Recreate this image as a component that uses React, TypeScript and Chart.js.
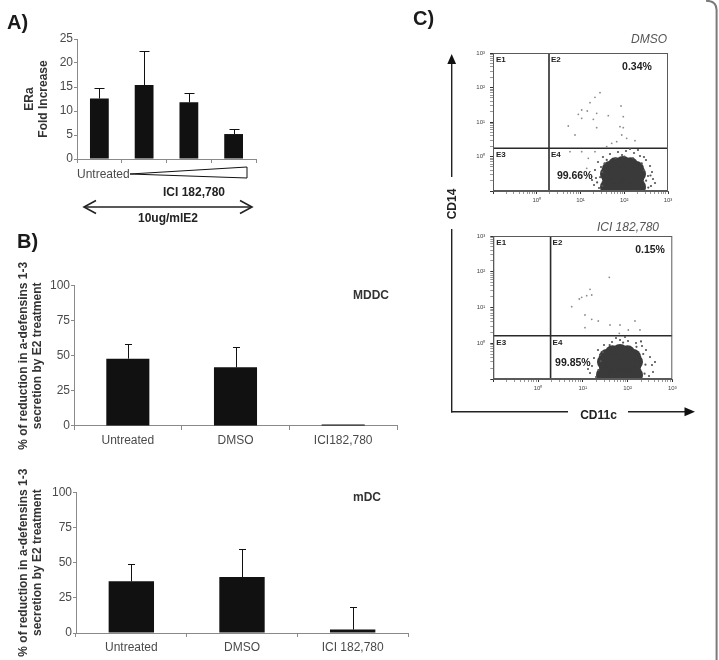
import React, { useEffect, useRef } from 'react';
import { Chart, registerables } from 'chart.js';

Chart.register(...registerables);

const W = 719;
const H = 660;
const FONT = '"Liberation Sans", Arial, Helvetica, sans-serif';

// ---- Panel A: ERa fold increase ----
const erCategories = ['Untreated', 'ICI 182,780 low', 'ICI 182,780 mid', 'ICI 182,780 high'];
const erFoldIncrease = [12.6, 15.4, 11.8, 5.2];
const erFoldSd = [2.1, 7.0, 1.9, 1.0];

// ---- Panel B: % reduction of a-defensin 1-3 secretion by E2 ----
const mddcCategories = ['Untreated', 'DMSO', 'ICI182,780'];
const mddcReduction = [48.0, 41.8, 1.0];
const mddcSd = [10.4, 14.5, 0];

const mdcCategories = ['Untreated', 'DMSO', 'ICI 182,780'];
const mdcReduction = [36.7, 39.8, 2.4];
const mdcSd = [12.3, 20.1, 16.1];

// ---- Panel C: CD11c / CD14 flow cytometry (log10 fluorescence, decades) ----
const fluorDecades = [0, 1, 2, 3];
const fluorTickLabels = ['10\u2070', '10\u00b9', '10\u00b2', '10\u00b3'];
const quadrantNames = ['E1', 'E2', 'E3', 'E4'];

// DMSO: dense CD11c+ CD14- population (core), its fuzzy rim, and scattered events
const dmsoCore = [
  [2.314, -0.507], [2.269, -0.362], [2.143, -0.255], [1.971, -0.217], [1.8, -0.255], [1.674, -0.362],
  [1.629, -0.507], [1.674, -0.652], [1.8, -0.759], [1.971, -0.797], [2.143, -0.759], [2.269, -0.652],
  [1.971, -0.507], [1.811, -0.507], [2.131, -0.507],
  [1.629, -0.884], [2.314, -0.884],
  [1.674, -1.0], [1.857, -1.0], [2.04, -1.0], [2.223, -1.0],
];
const dmsoRim = [
  [1.674, 0.072], [1.857, 0.13], [2.04, 0.159], [2.223, 0.101], [2.36, 0.014], [1.514, -0.014],
  [2.131, 0.217], [1.949, 0.043], [2.497, -0.101], [2.589, -0.275], [2.634, -0.449], [2.657, -0.652],
  [2.611, -0.855], [2.703, -0.768], [2.543, -0.565], [1.4, -0.159], [1.331, -0.391], [1.354, -0.623],
  [1.309, -0.826], [1.423, -0.913], [1.469, -0.304], [1.263, -0.681], [2.451, -0.014], [2.314, 0.188],
  [1.55, -0.2], [1.6, -0.1], [2.4, -0.2], [2.45, -0.4], [2.5, -0.7], [1.45, -0.6], [1.5, -0.85],
  [2.0, 0.0], [1.8, -0.05], [2.2, -0.05], [2.55, -0.9], [1.5, -0.45], [2.6, -0.55], [1.38, -0.75],
];
const dmsoSparse = [
  [1.446, 1.849], [1.331, 1.716], [1.217, 1.559], [1.027, 1.348], [1.155, 1.319], [1.37, 1.252],
  [0.95, 1.223], [1.027, 1.107], [1.635, 1.183], [1.978, 1.154], [0.721, 0.884], [1.37, 0.835],
  [1.978, 0.835], [0.874, 0.623], [1.942, 0.623], [2.056, 0.528], [1.827, 0.429], [2.246, 0.458],
  [1.599, 0.284], [1.713, 0.383], [1.926, 1.464], [1.293, 1.078], [1.903, 0.864],
  [1.027, 0.139], [1.178, -0.052], [1.142, -0.342], [1.256, -0.586], [0.76, 0.139], [1.331, 0.139],
];
const dmsoGate = { x: 0.28, y: 0.24 };
const dmsoNotes = [
  { text: '0.34%', x: 1.95, y: 2.6 },
  { text: '99.66%', x: 0.46, y: -0.56 },
];

// ICI 182,780
const iciCore = [
  [2.166, -0.524], [2.122, -0.385], [1.999, -0.281], [1.831, -0.245], [1.664, -0.281], [1.541, -0.385],
  [1.496, -0.524], [1.541, -0.664], [1.664, -0.768], [1.831, -0.804], [1.999, -0.768], [2.122, -0.664],
  [1.831, -0.524], [1.675, -0.524], [1.988, -0.524],
  [1.474, -0.888], [2.166, -0.888],
  [1.541, -1.0], [1.72, -1.0], [1.898, -1.0], [2.077, -1.0],
];
const iciRim = [
  [1.474, -0.049], [1.653, 0.035], [1.832, 0.091], [2.01, 0.063], [2.189, 0.007], [2.323, -0.077],
  [1.742, 0.147], [1.943, 0.175], [2.412, -0.189], [2.502, -0.385], [2.546, -0.608], [2.569, -0.804],
  [2.479, -0.916], [2.613, -0.524], [1.34, -0.189], [1.25, -0.413], [1.206, -0.636], [1.161, -0.832],
  [1.295, -0.944], [1.384, -0.329], [1.116, -0.72], [1.45, -0.25], [1.4, -0.5], [1.35, -0.75],
  [2.35, -0.3], [2.4, -0.6], [2.38, -0.85], [1.6, -0.05], [2.2, -0.1], [1.9, 0.02], [2.3, 0.05],
];
const iciSparse = [
  [1.592, 1.845], [1.161, 1.509], [1.087, 1.33], [0.975, 1.285], [0.922, 1.238], [1.199, 1.35],
  [0.752, 1.022], [1.049, 0.79], [1.199, 0.67], [1.346, 0.622], [1.608, 0.51], [1.831, 0.51],
  [2.166, 0.622], [1.049, 0.435], [2.017, 0.371], [2.278, 0.371], [1.816, 0.278],
];
const iciGate = { x: 0.28, y: 0.21 };
const iciNotes = [
  { text: '0.15%', x: 2.17, y: 2.6 },
  { text: '99.85%', x: 0.38, y: -0.55 },
];

type Area = { left: number; top: number; right: number; bottom: number };

// Fixed plot rectangles on the page
const AREA_A: Area = { left: 77, top: 39, right: 256, bottom: 159 };
const AREA_B1: Area = { left: 74, top: 285.7, right: 397, bottom: 426 };
const AREA_B2: Area = { left: 76, top: 492.3, right: 408, bottom: 633 };
const AREA_C1: Area = { left: 493, top: 53, right: 668, bottom: 191 };
const AREA_C2: Area = { left: 493.3, top: 236, right: 672.3, bottom: 379 };

function padFor(area: Area, yWidth: number, xHeight: number) {
  return {
    left: area.left - yWidth,
    top: area.top,
    right: W - area.right,
    bottom: H - area.bottom - xHeight,
  };
}

// Upper error bars with a small cap
const errorBarPlugin = {
  id: 'errorBars',
  afterDatasetsDraw(chart: any, _args: any, opts: any) {
    const errs: number[] = opts.errors || [];
    const meta = chart.getDatasetMeta(0);
    const yScale = chart.scales.y;
    const values = chart.data.datasets[0].data as number[];
    const ctx = chart.ctx;
    ctx.save();
    ctx.strokeStyle = '#111';
    ctx.lineWidth = 1;
    meta.data.forEach((bar: any, i: number) => {
      const e = errs[i];
      if (!e) return;
      const x = Math.round(bar.x) + 0.5;
      const yTop = Math.round(yScale.getPixelForValue(values[i] + e)) + 0.5;
      ctx.beginPath();
      ctx.moveTo(x, bar.y);
      ctx.lineTo(x, yTop);
      ctx.moveTo(x - opts.cap, yTop);
      ctx.lineTo(x + opts.cap, yTop);
      ctx.stroke();
    });
    ctx.restore();
  },
};

// Frame, quadrant names and percentages for the flow plots
const flowOverlayPlugin = {
  id: 'flowOverlay',
  afterDatasetsDraw(chart: any, _args: any, opts: any) {
    const { ctx, chartArea: a, scales } = chart;
    const x = scales.x;
    const y = scales.y;
    ctx.save();
    ctx.strokeStyle = '#5a5a5a';
    ctx.lineWidth = 1;
    ctx.strokeRect(a.left + 0.5, a.top + 0.5, a.right - a.left - 1, a.bottom - a.top - 1);
    const gx = x.getPixelForValue(opts.gate.x);
    const gy = y.getPixelForValue(opts.gate.y);
    ctx.fillStyle = '#222';
    ctx.font = `bold 8px ${FONT}`;
    ctx.textBaseline = 'top';
    ctx.textAlign = 'left';
    ctx.fillText(quadrantNames[0], a.left + 3, a.top + 3);
    ctx.fillText(quadrantNames[1], gx + 2, a.top + 3);
    ctx.fillText(quadrantNames[2], a.left + 3, gy + 3);
    ctx.fillText(quadrantNames[3], gx + 2, gy + 3);
    ctx.font = `bold 10.5px ${FONT}`;
    ctx.textBaseline = 'middle';
    for (const n of opts.notes) {
      ctx.fillText(n.text, x.getPixelForValue(n.x), y.getPixelForValue(n.y));
    }
    ctx.restore();
  },
};

const tickFont = { family: FONT, size: 12 };
const titleFont = { family: FONT, size: 12, weight: 'bold' as const };

function barConfig(
  labels: string[],
  values: number[],
  errors: number[],
  area: Area,
  yWidth: number,
  xHeight: number,
  opt: { max: number; step: number; barPct: number; cap: number; title: string[]; showLabels: boolean },
): any {
  return {
    type: 'bar',
    data: {
      labels,
      datasets: [
        {
          data: values,
          backgroundColor: '#111',
          borderWidth: 0,
          barPercentage: opt.barPct,
          categoryPercentage: 1,
        },
      ],
    },
    options: {
      responsive: false,
      animation: false,
      events: [],
      layout: { padding: padFor(area, yWidth, xHeight) },
      plugins: {
        legend: { display: false },
        tooltip: { enabled: false },
        errorBars: { errors, cap: opt.cap },
      },
      scales: {
        x: {
          grid: { display: true, drawOnChartArea: false, tickLength: 4, color: '#8a8a8a' },
          border: { color: '#8a8a8a' },
          ticks: {
            display: opt.showLabels,
            color: '#4a4a4a',
            font: tickFont,
            padding: 3,
            maxRotation: 0,
            autoSkip: false,
          },
          afterFit: (s: any) => {
            s.height = xHeight;
          },
        },
        y: {
          min: 0,
          max: opt.max,
          ticks: { stepSize: opt.step, color: '#4a4a4a', font: tickFont, padding: 1 },
          grid: { drawOnChartArea: false, tickLength: 3, color: '#8a8a8a' },
          border: { color: '#8a8a8a' },
          title: {
            display: true,
            text: opt.title,
            color: '#333',
            font: titleFont,
            padding: { top: 2, bottom: 0 },
          },
          afterFit: (s: any) => {
            s.width = yWidth;
          },
        },
      },
    },
    plugins: [errorBarPlugin],
  };
}

const pts = (arr: number[][]) => arr.map(([x, y]) => ({ x, y }));

function decadeTicks() {
  const out: { value: number }[] = [];
  for (let d = -1; d < 3; d++) {
    for (let m = 1; m <= 9; m++) out.push({ value: d + Math.log10(m) });
  }
  out.push({ value: 3 });
  return out;
}

function fluorAxis(isX: boolean, size: number) {
  return {
    type: 'linear',
    min: -1,
    max: 3,
    afterBuildTicks: (s: any) => {
      s.ticks = decadeTicks();
    },
    ticks: {
      autoSkip: false,
      maxRotation: 0,
      color: '#444',
      font: { family: FONT, size: 6 },
      padding: isX ? 3 : 5,
      callback: (v: number) => {
        const i = fluorDecades.indexOf(v);
        return i >= 0 ? fluorTickLabels[i] : '';
      },
    },
    grid: {
      drawOnChartArea: false,
      tickLength: 3,
      color: (c: any) => (c.tick && Number.isInteger(c.tick.value) ? '#333' : '#999'),
    },
    border: { color: '#5a5a5a' },
    afterFit: (s: any) => {
      if (isX) s.height = size;
      else s.width = size;
    },
  };
}

function flowConfig(
  core: number[][],
  rim: number[][],
  sparse: number[][],
  gate: { x: number; y: number },
  notes: { text: string; x: number; y: number }[],
  area: Area,
): any {
  const yWidth = 30;
  const xHeight = 20;
  return {
    type: 'scatter',
    data: {
      datasets: [
        { data: pts(sparse), pointRadius: 0.9, backgroundColor: '#8c8c8c', pointBorderWidth: 0, clip: 0 },
        { data: pts(rim), pointRadius: 1.1, backgroundColor: '#555', pointBorderWidth: 0, clip: 0 },
        { data: pts(core), pointRadius: 8, backgroundColor: '#3a3a3a', pointBorderWidth: 0, clip: 0 },
        {
          data: [{ x: gate.x, y: -1 }, { x: gate.x, y: 3 }],
          showLine: true,
          pointRadius: 0,
          borderColor: '#2a2a2a',
          borderWidth: 1.6,
          clip: 0,
        },
        {
          data: [{ x: -1, y: gate.y }, { x: 3, y: gate.y }],
          showLine: true,
          pointRadius: 0,
          borderColor: '#2a2a2a',
          borderWidth: 1.6,
          clip: 0,
        },
      ],
    },
    options: {
      responsive: false,
      animation: false,
      events: [],
      layout: { padding: padFor(area, yWidth, xHeight) },
      plugins: {
        legend: { display: false },
        tooltip: { enabled: false },
        flowOverlay: { gate, notes },
      },
      scales: {
        x: fluorAxis(true, xHeight),
        y: fluorAxis(false, yWidth),
      },
    },
    plugins: [flowOverlayPlugin],
  };
}

function ChartLayer({ make }: { make: () => any }) {
  const ref = useRef<HTMLCanvasElement>(null);
  useEffect(() => {
    const chart = new Chart(ref.current as HTMLCanvasElement, make());
    return () => chart.destroy();
  }, []);
  return (
    <canvas
      ref={ref}
      width={W}
      height={H}
      style={{ position: 'absolute', left: 0, top: 0, width: W, height: H }}
    />
  );
}

type LabelProps = {
  text: string;
  x: number;
  y: number;
  size?: number;
  bold?: boolean;
  italic?: boolean;
  color?: string;
  align?: 'left' | 'center' | 'right';
  rotate?: boolean;
};

function Label({ text, x, y, size = 12, bold, italic, color = '#222', align = 'left', rotate }: LabelProps) {
  const tx = align === 'left' ? '0' : align === 'center' ? '-50%' : '-100%';
  return (
    <div
      style={{
        position: 'absolute',
        left: x,
        top: y,
        transform: rotate ? 'translate(-50%, -50%) rotate(-90deg)' : `translate(${tx}, -50%)`,
        fontFamily: FONT,
        fontSize: size,
        fontWeight: bold ? 700 : 400,
        fontStyle: italic ? 'italic' : 'normal',
        color,
        lineHeight: 1,
        whiteSpace: 'nowrap',
      }}
    >
      {text}
    </div>
  );
}

export default function App() {
  return (
    <div
      style={{
        position: 'absolute',
        left: 0,
        top: 0,
        width: W,
        height: H,
        background: '#fff',
        overflow: 'hidden',
      }}
    >
      <ChartLayer
        make={() =>
          barConfig(erCategories, erFoldIncrease, erFoldSd, AREA_A, 57, 16, {
            max: 25,
            step: 5,
            barPct: 0.42,
            cap: 5,
            title: ['ERa', 'Fold Increase'],
            showLabels: false,
          })
        }
      />
      <ChartLayer
        make={() =>
          barConfig(mddcCategories, mddcReduction, mddcSd, AREA_B1, 60, 24, {
            max: 100,
            step: 25,
            barPct: 0.4,
            cap: 3.5,
            title: ['% of reduction in a-defensins 1-3', 'secretion by E2 treatment'],
            showLabels: true,
          })
        }
      />
      <ChartLayer
        make={() =>
          barConfig(mdcCategories, mdcReduction, mdcSd, AREA_B2, 62, 24, {
            max: 100,
            step: 25,
            barPct: 0.41,
            cap: 3.5,
            title: ['% of reduction in a-defensins 1-3', 'secretion by E2 treatment'],
            showLabels: true,
          })
        }
      />
      <ChartLayer make={() => flowConfig(dmsoCore, dmsoRim, dmsoSparse, dmsoGate, dmsoNotes, AREA_C1)} />
      <ChartLayer make={() => flowConfig(iciCore, iciRim, iciSparse, iciGate, iciNotes, AREA_C2)} />

      <svg
        width={W}
        height={H}
        style={{ position: 'absolute', left: 0, top: 0 }}
        viewBox={`0 0 ${W} ${H}`}
      >
        {/* dose wedge under panel A */}
        <polygon points="130,174 247,167 247,178" fill="#fff" stroke="#111" strokeWidth={1} />
        {/* double-headed E2 arrow */}
        <g stroke="#222" strokeWidth={1.6} fill="none">
          <line x1={84} y1={207} x2={252} y2={207} />
          <polyline points="96,200.5 84,207 96,213.5" />
          <polyline points="240,200.5 252,207 240,213.5" />
        </g>
        {/* CD14 / CD11c axes of panel C */}
        <g stroke="#222" strokeWidth={1.4}>
          <line x1={451.7} y1={62} x2={451.7} y2={177} />
          <line x1={451.7} y1={229} x2={451.7} y2={412.4} />
          <line x1={451} y1={411.7} x2={568} y2={411.7} />
          <line x1={628} y1={411.7} x2={686} y2={411.7} />
        </g>
        <polygon points="451.7,54 447.3,64 456.1,64" fill="#111" />
        <polygon points="695,411.7 684.5,407.2 684.5,416.2" fill="#111" />
        {/* panel C border */}
        <path d="M 706 0.8 Q 716.6 0.8 716.6 10 L 716.6 660" fill="none" stroke="#7a7a7a" strokeWidth={2} />
      </svg>

      <Label text="A)" x={7} y={21.5} size={20} bold color="#1a1a1a" />
      <Label text="B)" x={17} y={241} size={20} bold color="#1a1a1a" />
      <Label text="C)" x={413} y={18} size={20} bold color="#1a1a1a" />

      <Label text="Untreated" x={77} y={174} color="#4a4a4a" />
      <Label text="ICI 182,780" x={163} y={192} bold color="#222" />
      <Label text="10ug/mlE2" x={168} y={218} bold align="center" color="#222" />

      <Label text="MDDC" x={353} y={295} bold color="#333" />
      <Label text="mDC" x={353} y={497} bold color="#333" />

      <Label text="DMSO" x={667} y={39} italic align="right" color="#555" />
      <Label text="ICI 182,780" x={659} y={227} italic align="right" color="#555" />
      <Label text="CD14" x={451.7} y={204} bold rotate color="#222" />
      <Label text="CD11c" x={598.5} y={415} bold align="center" color="#222" />
    </div>
  );
}
